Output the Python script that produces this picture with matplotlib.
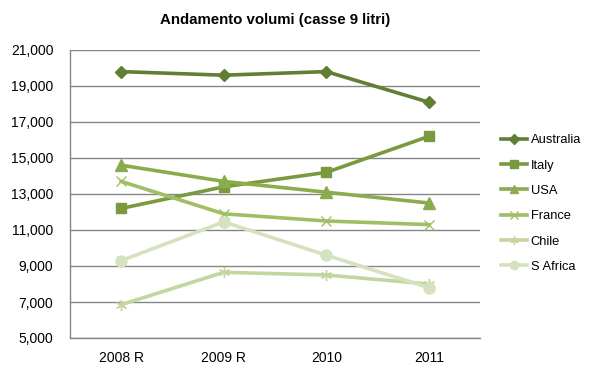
import matplotlib
matplotlib.use("Agg")
import matplotlib.pyplot as plt
from matplotlib.ticker import FuncFormatter

categories = ["2008 R", "2009 R", "2010", "2011"]
australia = [19800, 19600, 19800, 18100]
italy = [12200, 13400, 14200, 16200]
usa = [14600, 13700, 13100, 12500]
france = [13700, 11900, 11500, 11300]
chile = [6850, 8650, 8500, 8000]
s_africa = [9300, 11450, 9600, 7800]
y_ticks = [5000, 7000, 9000, 11000, 13000, 15000, 17000, 19000, 21000]

series = [
    ("Australia", australia, "#617E35", "D", 6.5),
    ("Italy", italy, "#799A3F", "s", 7.5),
    ("USA", usa, "#8AAC4C", "^", 8),
    ("France", france, "#9FBE66", "x", 7),
    ("Chile", chile, "#C3D69F", (6, 2, 0), 8),
    ("S Africa", s_africa, "#D5E2BF", "o", 8),
]

plt.rcParams["font.family"] = ["Liberation Sans", "DejaVu Sans"]

fig = plt.figure(figsize=(5.98, 3.74), dpi=100)
ax = fig.add_axes([70 / 598, 1 - 338 / 374, 410 / 598, 288 / 374])

x = list(range(len(categories)))
for name, vals, col, mk, ms in series:
    ax.plot(x, vals, color=col, lw=2.6, marker=mk, markersize=ms,
            markeredgecolor=col, markerfacecolor=col, markeredgewidth=1.0,
            label=name, solid_joinstyle="round")

ax.set_xlim(-0.5, 3.5)
ax.set_ylim(y_ticks[0], y_ticks[-1])
ax.set_yticks(y_ticks)
ax.yaxis.set_major_formatter(FuncFormatter(lambda v, p: f"{int(v):,}"))
ax.set_xticks(x)
ax.set_xticklabels(categories)
ax.tick_params(axis="both", length=0, labelsize=10, colors="black")
ax.tick_params(axis="y", pad=12)
ax.tick_params(axis="x", pad=9)
ax.grid(axis="y", color="#868686", lw=1)
ax.set_axisbelow(True)
for s in ["top", "right"]:
    ax.spines[s].set_visible(False)
for s in ["left", "bottom"]:
    ax.spines[s].set_color("#868686")
    ax.spines[s].set_linewidth(1)

fig.text(275 / 598, 1 - 20 / 374, "Andamento volumi (casse 9 litri)", ha="center",
         va="center", fontsize=10.8, fontweight="bold")

leg = ax.legend(loc="center left", bbox_to_anchor=(1.035, 0.467), frameon=False,
                fontsize=9.3, handlelength=2.0, handletextpad=0.3,
                labelspacing=1.03, markerscale=0.75, borderpad=0)

fig.savefig("out.png", dpi=100)
